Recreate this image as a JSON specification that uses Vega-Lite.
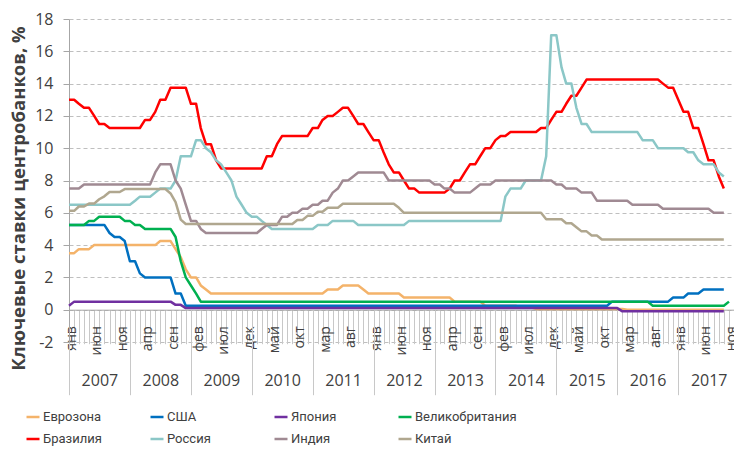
{
"$schema":"https://vega.github.io/schema/vega-lite/v6.json",
"width":665,"height":323,
"autosize":{"type":"none"},
"padding":{"left":69,"top":19,"right":0,"bottom":112},
"background":"white",
"config":{"view":{"stroke":null},"font":"Open Sans","axis":{"labelFont":"Open Sans","titleFont":"Open Sans"}},
"data":{"format":{"parse":{"d":"date:'%Y-%m'"}},"values":[
{"d":"2007-01","ez":3.5,"us":5.25,"jp":0.25,"uk":5.25,"br":13,"ru":6.5,"in":7.5,"cn":6.12},
{"d":"2007-02","ez":3.5,"us":5.25,"jp":0.5,"uk":5.25,"br":13,"ru":6.5,"in":7.5,"cn":6.12},
{"d":"2007-03","ez":3.75,"us":5.25,"jp":0.5,"uk":5.25,"br":12.75,"ru":6.5,"in":7.5,"cn":6.39},
{"d":"2007-04","ez":3.75,"us":5.25,"jp":0.5,"uk":5.25,"br":12.5,"ru":6.5,"in":7.75,"cn":6.39},
{"d":"2007-05","ez":3.75,"us":5.25,"jp":0.5,"uk":5.5,"br":12.5,"ru":6.5,"in":7.75,"cn":6.57},
{"d":"2007-06","ez":4,"us":5.25,"jp":0.5,"uk":5.5,"br":12,"ru":6.5,"in":7.75,"cn":6.57},
{"d":"2007-07","ez":4,"us":5.25,"jp":0.5,"uk":5.75,"br":11.5,"ru":6.5,"in":7.75,"cn":6.84},
{"d":"2007-08","ez":4,"us":5.25,"jp":0.5,"uk":5.75,"br":11.5,"ru":6.5,"in":7.75,"cn":7.02},
{"d":"2007-09","ez":4,"us":4.75,"jp":0.5,"uk":5.75,"br":11.25,"ru":6.5,"in":7.75,"cn":7.29},
{"d":"2007-10","ez":4,"us":4.5,"jp":0.5,"uk":5.75,"br":11.25,"ru":6.5,"in":7.75,"cn":7.29},
{"d":"2007-11","ez":4,"us":4.5,"jp":0.5,"uk":5.75,"br":11.25,"ru":6.5,"in":7.75,"cn":7.29},
{"d":"2007-12","ez":4,"us":4.25,"jp":0.5,"uk":5.5,"br":11.25,"ru":6.5,"in":7.75,"cn":7.47},
{"d":"2008-01","ez":4,"us":3,"jp":0.5,"uk":5.5,"br":11.25,"ru":6.5,"in":7.75,"cn":7.47},
{"d":"2008-02","ez":4,"us":3,"jp":0.5,"uk":5.25,"br":11.25,"ru":6.75,"in":7.75,"cn":7.47},
{"d":"2008-03","ez":4,"us":2.25,"jp":0.5,"uk":5.25,"br":11.25,"ru":7,"in":7.75,"cn":7.47},
{"d":"2008-04","ez":4,"us":2,"jp":0.5,"uk":5,"br":11.75,"ru":7,"in":7.75,"cn":7.47},
{"d":"2008-05","ez":4,"us":2,"jp":0.5,"uk":5,"br":11.75,"ru":7,"in":7.75,"cn":7.47},
{"d":"2008-06","ez":4,"us":2,"jp":0.5,"uk":5,"br":12.25,"ru":7.25,"in":8.5,"cn":7.47},
{"d":"2008-07","ez":4.25,"us":2,"jp":0.5,"uk":5,"br":13,"ru":7.5,"in":9,"cn":7.47},
{"d":"2008-08","ez":4.25,"us":2,"jp":0.5,"uk":5,"br":13,"ru":7.5,"in":9,"cn":7.47},
{"d":"2008-09","ez":4.25,"us":2,"jp":0.5,"uk":5,"br":13.75,"ru":7.5,"in":9,"cn":7.2},
{"d":"2008-10","ez":3.75,"us":1,"jp":0.3,"uk":4.5,"br":13.75,"ru":8,"in":8,"cn":6.66},
{"d":"2008-11","ez":3.25,"us":1,"jp":0.3,"uk":3,"br":13.75,"ru":9.5,"in":7.5,"cn":5.58},
{"d":"2008-12","ez":2.5,"us":0.25,"jp":0.1,"uk":2,"br":13.75,"ru":9.5,"in":6.5,"cn":5.31},
{"d":"2009-01","ez":2,"us":0.25,"jp":0.1,"uk":1.5,"br":12.75,"ru":9.5,"in":5.5,"cn":5.31},
{"d":"2009-02","ez":2,"us":0.25,"jp":0.1,"uk":1,"br":12.75,"ru":10.5,"in":5.5,"cn":5.31},
{"d":"2009-03","ez":1.5,"us":0.25,"jp":0.1,"uk":0.5,"br":11.25,"ru":10.5,"in":5,"cn":5.31},
{"d":"2009-04","ez":1.25,"us":0.25,"jp":0.1,"uk":0.5,"br":10.25,"ru":10,"in":4.75,"cn":5.31},
{"d":"2009-05","ez":1,"us":0.25,"jp":0.1,"uk":0.5,"br":10.25,"ru":9.75,"in":4.75,"cn":5.31},
{"d":"2009-06","ez":1,"us":0.25,"jp":0.1,"uk":0.5,"br":9.25,"ru":9.25,"in":4.75,"cn":5.31},
{"d":"2009-07","ez":1,"us":0.25,"jp":0.1,"uk":0.5,"br":8.75,"ru":9,"in":4.75,"cn":5.31},
{"d":"2009-08","ez":1,"us":0.25,"jp":0.1,"uk":0.5,"br":8.75,"ru":8.5,"in":4.75,"cn":5.31},
{"d":"2009-09","ez":1,"us":0.25,"jp":0.1,"uk":0.5,"br":8.75,"ru":8,"in":4.75,"cn":5.31},
{"d":"2009-10","ez":1,"us":0.25,"jp":0.1,"uk":0.5,"br":8.75,"ru":7,"in":4.75,"cn":5.31},
{"d":"2009-11","ez":1,"us":0.25,"jp":0.1,"uk":0.5,"br":8.75,"ru":6.5,"in":4.75,"cn":5.31},
{"d":"2009-12","ez":1,"us":0.25,"jp":0.1,"uk":0.5,"br":8.75,"ru":6,"in":4.75,"cn":5.31},
{"d":"2010-01","ez":1,"us":0.25,"jp":0.1,"uk":0.5,"br":8.75,"ru":5.75,"in":4.75,"cn":5.31},
{"d":"2010-02","ez":1,"us":0.25,"jp":0.1,"uk":0.5,"br":8.75,"ru":5.75,"in":4.75,"cn":5.31},
{"d":"2010-03","ez":1,"us":0.25,"jp":0.1,"uk":0.5,"br":8.75,"ru":5.5,"in":5,"cn":5.31},
{"d":"2010-04","ez":1,"us":0.25,"jp":0.1,"uk":0.5,"br":9.5,"ru":5.25,"in":5.25,"cn":5.31},
{"d":"2010-05","ez":1,"us":0.25,"jp":0.1,"uk":0.5,"br":9.5,"ru":5,"in":5.25,"cn":5.31},
{"d":"2010-06","ez":1,"us":0.25,"jp":0.1,"uk":0.5,"br":10.25,"ru":5,"in":5.25,"cn":5.31},
{"d":"2010-07","ez":1,"us":0.25,"jp":0.1,"uk":0.5,"br":10.75,"ru":5,"in":5.75,"cn":5.31},
{"d":"2010-08","ez":1,"us":0.25,"jp":0.1,"uk":0.5,"br":10.75,"ru":5,"in":5.75,"cn":5.31},
{"d":"2010-09","ez":1,"us":0.25,"jp":0.1,"uk":0.5,"br":10.75,"ru":5,"in":6,"cn":5.31},
{"d":"2010-10","ez":1,"us":0.25,"jp":0.1,"uk":0.5,"br":10.75,"ru":5,"in":6,"cn":5.56},
{"d":"2010-11","ez":1,"us":0.25,"jp":0.1,"uk":0.5,"br":10.75,"ru":5,"in":6.25,"cn":5.56},
{"d":"2010-12","ez":1,"us":0.25,"jp":0.1,"uk":0.5,"br":10.75,"ru":5,"in":6.25,"cn":5.81},
{"d":"2011-01","ez":1,"us":0.25,"jp":0.1,"uk":0.5,"br":11.25,"ru":5,"in":6.5,"cn":5.81},
{"d":"2011-02","ez":1,"us":0.25,"jp":0.1,"uk":0.5,"br":11.25,"ru":5.25,"in":6.5,"cn":6.06},
{"d":"2011-03","ez":1,"us":0.25,"jp":0.1,"uk":0.5,"br":11.75,"ru":5.25,"in":6.75,"cn":6.06},
{"d":"2011-04","ez":1.25,"us":0.25,"jp":0.1,"uk":0.5,"br":12,"ru":5.25,"in":6.75,"cn":6.31},
{"d":"2011-05","ez":1.25,"us":0.25,"jp":0.1,"uk":0.5,"br":12,"ru":5.5,"in":7.25,"cn":6.31},
{"d":"2011-06","ez":1.25,"us":0.25,"jp":0.1,"uk":0.5,"br":12.25,"ru":5.5,"in":7.5,"cn":6.31},
{"d":"2011-07","ez":1.5,"us":0.25,"jp":0.1,"uk":0.5,"br":12.5,"ru":5.5,"in":8,"cn":6.56},
{"d":"2011-08","ez":1.5,"us":0.25,"jp":0.1,"uk":0.5,"br":12.5,"ru":5.5,"in":8,"cn":6.56},
{"d":"2011-09","ez":1.5,"us":0.25,"jp":0.1,"uk":0.5,"br":12,"ru":5.5,"in":8.25,"cn":6.56},
{"d":"2011-10","ez":1.5,"us":0.25,"jp":0.1,"uk":0.5,"br":11.5,"ru":5.25,"in":8.5,"cn":6.56},
{"d":"2011-11","ez":1.25,"us":0.25,"jp":0.1,"uk":0.5,"br":11.5,"ru":5.25,"in":8.5,"cn":6.56},
{"d":"2011-12","ez":1,"us":0.25,"jp":0.1,"uk":0.5,"br":11,"ru":5.25,"in":8.5,"cn":6.56},
{"d":"2012-01","ez":1,"us":0.25,"jp":0.1,"uk":0.5,"br":10.5,"ru":5.25,"in":8.5,"cn":6.56},
{"d":"2012-02","ez":1,"us":0.25,"jp":0.1,"uk":0.5,"br":10.5,"ru":5.25,"in":8.5,"cn":6.56},
{"d":"2012-03","ez":1,"us":0.25,"jp":0.1,"uk":0.5,"br":9.75,"ru":5.25,"in":8.5,"cn":6.56},
{"d":"2012-04","ez":1,"us":0.25,"jp":0.1,"uk":0.5,"br":9,"ru":5.25,"in":8,"cn":6.56},
{"d":"2012-05","ez":1,"us":0.25,"jp":0.1,"uk":0.5,"br":8.5,"ru":5.25,"in":8,"cn":6.56},
{"d":"2012-06","ez":1,"us":0.25,"jp":0.1,"uk":0.5,"br":8.5,"ru":5.25,"in":8,"cn":6.31},
{"d":"2012-07","ez":0.75,"us":0.25,"jp":0.1,"uk":0.5,"br":8,"ru":5.25,"in":8,"cn":6},
{"d":"2012-08","ez":0.75,"us":0.25,"jp":0.1,"uk":0.5,"br":7.5,"ru":5.5,"in":8,"cn":6},
{"d":"2012-09","ez":0.75,"us":0.25,"jp":0.1,"uk":0.5,"br":7.5,"ru":5.5,"in":8,"cn":6},
{"d":"2012-10","ez":0.75,"us":0.25,"jp":0.1,"uk":0.5,"br":7.25,"ru":5.5,"in":8,"cn":6},
{"d":"2012-11","ez":0.75,"us":0.25,"jp":0.1,"uk":0.5,"br":7.25,"ru":5.5,"in":8,"cn":6},
{"d":"2012-12","ez":0.75,"us":0.25,"jp":0.1,"uk":0.5,"br":7.25,"ru":5.5,"in":8,"cn":6},
{"d":"2013-01","ez":0.75,"us":0.25,"jp":0.1,"uk":0.5,"br":7.25,"ru":5.5,"in":7.75,"cn":6},
{"d":"2013-02","ez":0.75,"us":0.25,"jp":0.1,"uk":0.5,"br":7.25,"ru":5.5,"in":7.75,"cn":6},
{"d":"2013-03","ez":0.75,"us":0.25,"jp":0.1,"uk":0.5,"br":7.25,"ru":5.5,"in":7.5,"cn":6},
{"d":"2013-04","ez":0.75,"us":0.25,"jp":0.1,"uk":0.5,"br":7.5,"ru":5.5,"in":7.5,"cn":6},
{"d":"2013-05","ez":0.5,"us":0.25,"jp":0.1,"uk":0.5,"br":8,"ru":5.5,"in":7.25,"cn":6},
{"d":"2013-06","ez":0.5,"us":0.25,"jp":0.1,"uk":0.5,"br":8,"ru":5.5,"in":7.25,"cn":6},
{"d":"2013-07","ez":0.5,"us":0.25,"jp":0.1,"uk":0.5,"br":8.5,"ru":5.5,"in":7.25,"cn":6},
{"d":"2013-08","ez":0.5,"us":0.25,"jp":0.1,"uk":0.5,"br":9,"ru":5.5,"in":7.25,"cn":6},
{"d":"2013-09","ez":0.5,"us":0.25,"jp":0.1,"uk":0.5,"br":9,"ru":5.5,"in":7.5,"cn":6},
{"d":"2013-10","ez":0.5,"us":0.25,"jp":0.1,"uk":0.5,"br":9.5,"ru":5.5,"in":7.75,"cn":6},
{"d":"2013-11","ez":0.25,"us":0.25,"jp":0.1,"uk":0.5,"br":10,"ru":5.5,"in":7.75,"cn":6},
{"d":"2013-12","ez":0.25,"us":0.25,"jp":0.1,"uk":0.5,"br":10,"ru":5.5,"in":7.75,"cn":6},
{"d":"2014-01","ez":0.25,"us":0.25,"jp":0.1,"uk":0.5,"br":10.5,"ru":5.5,"in":8,"cn":6},
{"d":"2014-02","ez":0.25,"us":0.25,"jp":0.1,"uk":0.5,"br":10.75,"ru":5.5,"in":8,"cn":6},
{"d":"2014-03","ez":0.25,"us":0.25,"jp":0.1,"uk":0.5,"br":10.75,"ru":7,"in":8,"cn":6},
{"d":"2014-04","ez":0.25,"us":0.25,"jp":0.1,"uk":0.5,"br":11,"ru":7.5,"in":8,"cn":6},
{"d":"2014-05","ez":0.25,"us":0.25,"jp":0.1,"uk":0.5,"br":11,"ru":7.5,"in":8,"cn":6},
{"d":"2014-06","ez":0.15,"us":0.25,"jp":0.1,"uk":0.5,"br":11,"ru":7.5,"in":8,"cn":6},
{"d":"2014-07","ez":0.15,"us":0.25,"jp":0.1,"uk":0.5,"br":11,"ru":8,"in":8,"cn":6},
{"d":"2014-08","ez":0.15,"us":0.25,"jp":0.1,"uk":0.5,"br":11,"ru":8,"in":8,"cn":6},
{"d":"2014-09","ez":0.05,"us":0.25,"jp":0.1,"uk":0.5,"br":11,"ru":8,"in":8,"cn":6},
{"d":"2014-10","ez":0.05,"us":0.25,"jp":0.1,"uk":0.5,"br":11.25,"ru":8,"in":8,"cn":6},
{"d":"2014-11","ez":0.05,"us":0.25,"jp":0.1,"uk":0.5,"br":11.25,"ru":9.5,"in":8,"cn":5.6},
{"d":"2014-12","ez":0.05,"us":0.25,"jp":0.1,"uk":0.5,"br":11.75,"ru":17,"in":8,"cn":5.6},
{"d":"2015-01","ez":0.05,"us":0.25,"jp":0.1,"uk":0.5,"br":12.25,"ru":17,"in":7.75,"cn":5.6},
{"d":"2015-02","ez":0.05,"us":0.25,"jp":0.1,"uk":0.5,"br":12.25,"ru":15,"in":7.75,"cn":5.6},
{"d":"2015-03","ez":0.05,"us":0.25,"jp":0.1,"uk":0.5,"br":12.75,"ru":14,"in":7.5,"cn":5.35},
{"d":"2015-04","ez":0.05,"us":0.25,"jp":0.1,"uk":0.5,"br":13.25,"ru":14,"in":7.5,"cn":5.35},
{"d":"2015-05","ez":0.05,"us":0.25,"jp":0.1,"uk":0.5,"br":13.25,"ru":12.5,"in":7.5,"cn":5.1},
{"d":"2015-06","ez":0.05,"us":0.25,"jp":0.1,"uk":0.5,"br":13.75,"ru":11.5,"in":7.25,"cn":4.85},
{"d":"2015-07","ez":0.05,"us":0.25,"jp":0.1,"uk":0.5,"br":14.25,"ru":11.5,"in":7.25,"cn":4.85},
{"d":"2015-08","ez":0.05,"us":0.25,"jp":0.1,"uk":0.5,"br":14.25,"ru":11,"in":7.25,"cn":4.6},
{"d":"2015-09","ez":0.05,"us":0.25,"jp":0.1,"uk":0.5,"br":14.25,"ru":11,"in":6.75,"cn":4.6},
{"d":"2015-10","ez":0.05,"us":0.25,"jp":0.1,"uk":0.5,"br":14.25,"ru":11,"in":6.75,"cn":4.35},
{"d":"2015-11","ez":0.05,"us":0.25,"jp":0.1,"uk":0.5,"br":14.25,"ru":11,"in":6.75,"cn":4.35},
{"d":"2015-12","ez":0.05,"us":0.5,"jp":0.1,"uk":0.5,"br":14.25,"ru":11,"in":6.75,"cn":4.35},
{"d":"2016-01","ez":0.05,"us":0.5,"jp":0.1,"uk":0.5,"br":14.25,"ru":11,"in":6.75,"cn":4.35},
{"d":"2016-02","ez":0.05,"us":0.5,"jp":-0.1,"uk":0.5,"br":14.25,"ru":11,"in":6.75,"cn":4.35},
{"d":"2016-03","ez":0,"us":0.5,"jp":-0.1,"uk":0.5,"br":14.25,"ru":11,"in":6.75,"cn":4.35},
{"d":"2016-04","ez":0,"us":0.5,"jp":-0.1,"uk":0.5,"br":14.25,"ru":11,"in":6.5,"cn":4.35},
{"d":"2016-05","ez":0,"us":0.5,"jp":-0.1,"uk":0.5,"br":14.25,"ru":11,"in":6.5,"cn":4.35},
{"d":"2016-06","ez":0,"us":0.5,"jp":-0.1,"uk":0.5,"br":14.25,"ru":10.5,"in":6.5,"cn":4.35},
{"d":"2016-07","ez":0,"us":0.5,"jp":-0.1,"uk":0.5,"br":14.25,"ru":10.5,"in":6.5,"cn":4.35},
{"d":"2016-08","ez":0,"us":0.5,"jp":-0.1,"uk":0.25,"br":14.25,"ru":10.5,"in":6.5,"cn":4.35},
{"d":"2016-09","ez":0,"us":0.5,"jp":-0.1,"uk":0.25,"br":14.25,"ru":10,"in":6.5,"cn":4.35},
{"d":"2016-10","ez":0,"us":0.5,"jp":-0.1,"uk":0.25,"br":14,"ru":10,"in":6.25,"cn":4.35},
{"d":"2016-11","ez":0,"us":0.5,"jp":-0.1,"uk":0.25,"br":13.75,"ru":10,"in":6.25,"cn":4.35},
{"d":"2016-12","ez":0,"us":0.75,"jp":-0.1,"uk":0.25,"br":13.75,"ru":10,"in":6.25,"cn":4.35},
{"d":"2017-01","ez":0,"us":0.75,"jp":-0.1,"uk":0.25,"br":13,"ru":10,"in":6.25,"cn":4.35},
{"d":"2017-02","ez":0,"us":0.75,"jp":-0.1,"uk":0.25,"br":12.25,"ru":10,"in":6.25,"cn":4.35},
{"d":"2017-03","ez":0,"us":1,"jp":-0.1,"uk":0.25,"br":12.25,"ru":9.75,"in":6.25,"cn":4.35},
{"d":"2017-04","ez":0,"us":1,"jp":-0.1,"uk":0.25,"br":11.25,"ru":9.75,"in":6.25,"cn":4.35},
{"d":"2017-05","ez":0,"us":1,"jp":-0.1,"uk":0.25,"br":11.25,"ru":9.25,"in":6.25,"cn":4.35},
{"d":"2017-06","ez":0,"us":1.25,"jp":-0.1,"uk":0.25,"br":10.25,"ru":9,"in":6.25,"cn":4.35},
{"d":"2017-07","ez":0,"us":1.25,"jp":-0.1,"uk":0.25,"br":9.25,"ru":9,"in":6.25,"cn":4.35},
{"d":"2017-08","ez":0,"us":1.25,"jp":-0.1,"uk":0.25,"br":9.25,"ru":9,"in":6,"cn":4.35},
{"d":"2017-09","ez":0,"us":1.25,"jp":-0.1,"uk":0.25,"br":8.25,"ru":8.5,"in":6,"cn":4.35},
{"d":"2017-10","ez":0,"us":1.25,"jp":-0.1,"uk":0.25,"br":7.5,"ru":8.25,"in":6,"cn":4.35},
{"d":"2017-11","uk":0.5}
]},
"transform":[{"fold":["ez","us","jp","uk","br","ru","in","cn"],"as":["s","v"]}],
"layer":[
{
"mark":{"type":"line","strokeWidth":2.5,"strokeJoin":"round","timeUnitBandPosition":0.5},
"encoding":{
"x":{"field":"d","timeUnit":"yearmonth","type":"temporal",
"scale":{"domain":[{"year":2007,"month":1,"date":1},{"year":2017,"month":12,"date":1}],"nice":false},
"axis":{"orient":"bottom","offset":-32.3,"title":null,"grid":false,
"tickCount":{"interval":"month","step":1},"ticks":true,"tickSize":34,"tickColor":"#c8c8c8","tickWidth":1,
"domain":true,"domainColor":"#a6a6a6","domainWidth":1,
"labelAngle":-90,"labelAlign":"right","labelBaseline":"middle","labelPadding":-18,"labelOffset":2.5,
"labelExpr":"((year(datum.value)-2007)*12+month(datum.value))%5==0 ? ['янв','фев','мар','апр','май','июн','июл','авг','сен','окт','ноя','дек'][month(datum.value)] : ''",
"labelFontSize":14,"labelColor":"#404040","labelOverlap":false,"labelFlush":false,"labelBound":false}},
"y":{"field":"v","type":"quantitative","scale":{"domain":[-2,18],"nice":false,"zero":false},
"axis":{"orient":"left","values":[-2,0,2,4,6,8,10,12,14,16,18],"grid":true,"gridDash":[4,3],"gridColor":"#bfbfbf","gridWidth":1.2,
"domain":true,"domainColor":"#a6a6a6","ticks":true,"tickSize":6,"tickColor":"#a6a6a6",
"labelFontSize":16,"labelColor":"#404040","labelPadding":10,"labelExpr":"''+datum.value",
"title":"Ключевые ставки центробанков, %","titleFontSize":18.5,"titleFontWeight":"bold","titleColor":"#404040",
"titleX":-51,"titleY":179,"titleAngle":-90,"titleAlign":"center","titleBaseline":"middle"}},
"color":{"field":"s","type":"nominal",
"scale":{"domain":["ez","us","jp","uk","br","ru","in","cn"],"range":["#F4B36A","#0070C0","#7030A0","#00B050","#FF0000","#8BC7C7","#A08A93","#B0A78F"]},
"legend":{"orient":"none","legendX":-44,"legendY":390,"direction":"horizontal","columns":4,"gridAlign":"all",
"columnPadding":0,"rowPadding":7,"symbolType":"stroke","symbolSize":169,"symbolStrokeWidth":2.5,
"labelFont":"Roboto","labelFontSize":13,"labelColor":"#404040","labelOffset":2,"title":null,
"labelExpr":"datum.label=='ez'?'Еврозона':datum.label=='us'?'США':datum.label=='jp'?'Япония':datum.label=='uk'?'Великобритания':datum.label=='br'?'Бразилия':datum.label=='ru'?'Россия':datum.label=='in'?'Индия':'Китай'"}}
}
},
{
"mark":{"type":"line","opacity":0,"timeUnitBandPosition":0.5},
"encoding":{
"x":{"field":"d","timeUnit":"yearmonth","type":"temporal",
"axis":{"orient":"bottom","offset":-32.3,"title":null,"grid":false,"domain":false,
"values":[{"year":2007,"month":1,"date":1},{"year":2008,"month":1,"date":1},{"year":2009,"month":1,"date":1},{"year":2010,"month":1,"date":1},{"year":2011,"month":1,"date":1},{"year":2012,"month":1,"date":1},{"year":2013,"month":1,"date":1},{"year":2014,"month":1,"date":1},{"year":2015,"month":1,"date":1},{"year":2016,"month":1,"date":1},{"year":2017,"month":1,"date":1},{"year":2017,"month":12,"date":1}],
"ticks":true,"tickSize":85,"tickColor":"#c8c8c8","tickWidth":1,
"labelExpr":"month(datum.value)==0 ? timeFormat(datum.value,'%Y') : ''",
"labelAngle":0,"labelAlign":"center","labelBaseline":"middle","labelPadding":-14,"labelOffset":30.4,
"labelFontSize":16,"labelColor":"#404040","labelOverlap":false,"labelFlush":false,"labelBound":false}},
"y":{"field":"v","type":"quantitative","axis":null},
"detail":{"field":"s","type":"nominal"}
}
}
],
"resolve":{"axis":{"x":"independent","y":"independent"}}
}
